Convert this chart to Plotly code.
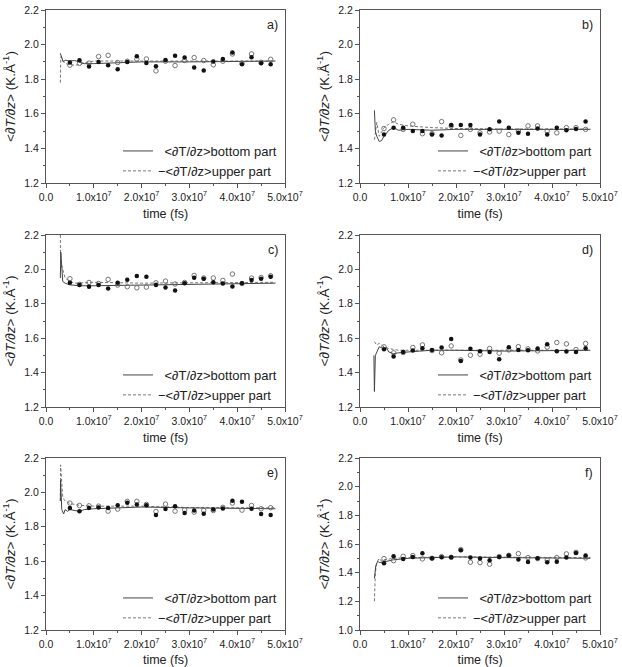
import plotly.graph_objects as go
from plotly.subplots import make_subplots

# ---------------- data ----------------
pt_x = [5e6, 7e6, 9e6, 11e6, 13e6, 15e6, 17e6, 19e6, 21e6, 23e6, 25e6,
        27e6, 29e6, 31e6, 33e6, 35e6, 37e6, 39e6, 41e6, 43e6, 45e6, 47e6]

# panel a
a_fill = [1.896, 1.910, 1.873, 1.900, 1.881, 1.858, 1.900, 1.933, 1.894, 1.875, 1.911,
          1.935, 1.925, 1.867, 1.850, 1.902, 1.917, 1.954, 1.886, 1.927, 1.892, 1.886]
a_open = [1.881, 1.892, 1.893, 1.931, 1.938, 1.896, 1.904, 1.915, 1.917, 1.848, 1.904,
          1.879, 1.908, 1.925, 1.908, 1.883, 1.904, 1.946, 1.892, 1.946, 1.898, 1.915]
a_bot_x = [3.0e6, 3.3e6, 3.6e6, 4e6, 5e6, 6e6, 8e6, 10e6, 15e6, 20e6, 30e6, 40e6, 48e6]
a_bot_y = [1.950, 1.920, 1.900, 1.910, 1.905, 1.908, 1.890, 1.890, 1.895, 1.900, 1.900, 1.902, 1.905]
a_up_x = [3.0e6, 3.1e6, 3.5e6, 4e6, 5e6, 6e6, 7e6, 8e6, 10e6, 15e6, 20e6, 30e6, 40e6, 48e6]
a_up_y = [1.780, 1.930, 1.910, 1.890, 1.885, 1.880, 1.885, 1.895, 1.905, 1.905, 1.908, 1.905, 1.905, 1.905]

# panel b
b_fill = [1.480, 1.520, 1.520, 1.500, 1.500, 1.480, 1.475, 1.535, 1.535, 1.535, 1.480,
          1.510, 1.555, 1.520, 1.490, 1.485, 1.515, 1.480, 1.520, 1.505, 1.512, 1.555]
b_open = [1.515, 1.565, 1.510, 1.540, 1.485, 1.485, 1.555, 1.530, 1.475, 1.510, 1.490,
          1.495, 1.500, 1.480, 1.500, 1.530, 1.530, 1.500, 1.490, 1.520, 1.520, 1.510]
b_bot_x = [3.0e6, 3.2e6, 3.5e6, 4e6, 4.5e6, 5e6, 6e6, 7e6, 8e6, 10e6, 15e6, 20e6, 30e6, 48e6]
b_bot_y = [1.620, 1.500, 1.470, 1.440, 1.445, 1.470, 1.505, 1.520, 1.505, 1.510, 1.505, 1.510, 1.510, 1.510]
b_up_x = [3.0e6, 3.5e6, 4e6, 5e6, 6e6, 7e6, 8e6, 10e6, 15e6, 20e6, 30e6, 48e6]
b_up_y = [1.450, 1.550, 1.470, 1.520, 1.540, 1.555, 1.540, 1.530, 1.520, 1.515, 1.512, 1.512]

# panel c
c_fill = [1.922, 1.910, 1.899, 1.910, 1.889, 1.922, 1.940, 1.961, 1.957, 1.909, 1.895,
          1.878, 1.920, 1.951, 1.946, 1.926, 1.918, 1.901, 1.920, 1.938, 1.946, 1.957]
c_open = [1.946, 1.913, 1.924, 1.918, 1.942, 1.909, 1.899, 1.893, 1.897, 1.922, 1.932,
          1.915, 1.924, 1.965, 1.950, 1.950, 1.936, 1.973, 1.918, 1.950, 1.953, 1.963]
c_bot_x = [3.0e6, 3.1e6, 3.5e6, 4e6, 5e6, 7e6, 10e6, 20e6, 30e6, 40e6, 48e6]
c_bot_y = [1.950, 2.100, 1.930, 1.920, 1.910, 1.905, 1.905, 1.910, 1.915, 1.918, 1.920]
c_up_x = [3.0e6, 3.05e6, 3.5e6, 4e6, 5e6, 6e6, 10e6, 20e6, 30e6, 48e6]
c_up_y = [2.200, 2.050, 2.000, 1.950, 1.930, 1.920, 1.925, 1.920, 1.922, 1.925]

# panel d
d_fill = [1.536, 1.493, 1.520, 1.528, 1.542, 1.532, 1.546, 1.596, 1.468, 1.538, 1.524,
          1.520, 1.478, 1.548, 1.532, 1.530, 1.540, 1.565, 1.524, 1.522, 1.520, 1.542]
d_open = [1.550, 1.515, 1.517, 1.546, 1.561, 1.528, 1.515, 1.555, 1.474, 1.501, 1.507,
          1.540, 1.513, 1.532, 1.551, 1.538, 1.526, 1.548, 1.575, 1.567, 1.534, 1.569]
d_bot_x = [2.9e6, 3.0e6, 3.2e6, 3.5e6, 4e6, 4.5e6, 5e6, 5.5e6, 6e6, 7e6, 8e6, 10e6, 15e6, 20e6, 30e6, 48e6]
d_bot_y = [1.500, 1.290, 1.500, 1.520, 1.550, 1.545, 1.530, 1.545, 1.520, 1.510, 1.515, 1.520, 1.530, 1.530, 1.525, 1.530]
d_up_x = [3.0e6, 3.5e6, 4e6, 5e6, 6e6, 8e6, 10e6, 20e6, 30e6, 48e6]
d_up_y = [1.580, 1.560, 1.570, 1.550, 1.540, 1.530, 1.530, 1.532, 1.530, 1.530]

# panel e
e_fill = [1.909, 1.891, 1.910, 1.912, 1.909, 1.926, 1.940, 1.930, 1.925, 1.868, 1.903,
          1.920, 1.880, 1.895, 1.876, 1.900, 1.907, 1.951, 1.945, 1.905, 1.874, 1.868]
e_open = [1.938, 1.924, 1.922, 1.920, 1.891, 1.903, 1.948, 1.948, 1.930, 1.889, 1.932,
          1.891, 1.899, 1.885, 1.895, 1.895, 1.913, 1.938, 1.897, 1.924, 1.905, 1.911]
e_bot_x = [3.0e6, 3.05e6, 3.3e6, 3.7e6, 4e6, 4.5e6, 5e6, 7e6, 8e6, 10e6, 15e6, 20e6, 30e6, 48e6]
e_bot_y = [1.950, 2.070, 1.900, 1.875, 1.900, 1.890, 1.900, 1.890, 1.900, 1.905, 1.910, 1.915, 1.910, 1.905]
e_up_x = [3.0e6, 3.05e6, 3.5e6, 4e6, 5e6, 7e6, 10e6, 20e6, 30e6, 48e6]
e_up_y = [1.950, 2.160, 1.970, 1.950, 1.935, 1.925, 1.920, 1.920, 1.912, 1.910]

# panel f
f_fill = [1.466, 1.514, 1.496, 1.510, 1.535, 1.500, 1.508, 1.508, 1.556, 1.505, 1.498,
          1.487, 1.510, 1.519, 1.491, 1.475, 1.500, 1.473, 1.477, 1.505, 1.537, 1.519]
f_open = [1.498, 1.484, 1.514, 1.519, 1.496, 1.500, 1.512, 1.507, 1.561, 1.473, 1.470,
          1.459, 1.512, 1.521, 1.533, 1.505, 1.498, 1.487, 1.505, 1.531, 1.542, 1.503]
f_bot_x = [3.0e6, 3.3e6, 3.7e6, 4e6, 5e6, 7e6, 10e6, 15e6, 20e6, 30e6, 48e6]
f_bot_y = [1.360, 1.450, 1.480, 1.470, 1.475, 1.490, 1.500, 1.505, 1.510, 1.505, 1.500]
f_up_x = [3.0e6, 3.2e6, 3.5e6, 4e6, 4.5e6, 5e6, 7e6, 10e6, 20e6, 48e6]
f_up_y = [1.200, 1.400, 1.470, 1.500, 1.480, 1.490, 1.500, 1.505, 1.510, 1.505]

panel_labels = ["a)", "b)", "c)", "d)", "e)", "f)"]
x_tickvals = [0, 1e7, 2e7, 3e7, 4e7, 5e7]
x_ticktext = ["0.0", "1.0x10<sup>7</sup>", "2.0x10<sup>7</sup>", "3.0x10<sup>7</sup>",
              "4.0x10<sup>7</sup>", "5.0x10<sup>7</sup>"]
leg_bottom = "\u2002&lt;∂T/∂z&gt;bottom part"
leg_upper = "−&lt;∂T/∂z&gt;upper part"

panels = [
    (a_fill, a_open, a_bot_x, a_bot_y, a_up_x, a_up_y, 1.2),
    (b_fill, b_open, b_bot_x, b_bot_y, b_up_x, b_up_y, 1.2),
    (c_fill, c_open, c_bot_x, c_bot_y, c_up_x, c_up_y, 1.2),
    (d_fill, d_open, d_bot_x, d_bot_y, d_up_x, d_up_y, 1.2),
    (e_fill, e_open, e_bot_x, e_bot_y, e_up_x, e_up_y, 1.2),
    (f_fill, f_open, f_bot_x, f_bot_y, f_up_x, f_up_y, 1.0),
]

# ---------------- layout geometry (pixels) ----------------
W, H = 622, 667
col_px = [(46, 285), (360, 600)]
row_px = [(10, 183), (235, 407), (458, 630)]

FONT = "Liberation Sans, Arial, sans-serif"
TXT = "#222"
AX = "#555"

fig = make_subplots(rows=3, cols=2)

for i, (fill, opn, bx, by, ux, uy, ymin) in enumerate(panels):
    r, c = i // 2 + 1, i % 2 + 1
    leg = "legend" if i == 0 else f"legend{i+1}"
    fig.add_trace(go.Scatter(x=ux, y=uy, mode="lines", name=leg_upper, legend=leg,
                             line=dict(color="#777", width=1, dash="3px,2px")), row=r, col=c)
    fig.add_trace(go.Scatter(x=bx, y=by, mode="lines", name=leg_bottom, legend=leg,
                             line=dict(color="#444", width=1)), row=r, col=c)
    fig.add_trace(go.Scatter(x=pt_x, y=opn, mode="markers", showlegend=False,
                             marker=dict(symbol="circle-open", size=4.5, color="#666",
                                         line=dict(width=0.9))), row=r, col=c)
    fig.add_trace(go.Scatter(x=pt_x, y=fill, mode="markers", showlegend=False,
                             marker=dict(symbol="circle", size=4.5, color="#111")), row=r, col=c)

    x0, x1 = col_px[c - 1]
    y0, y1 = row_px[r - 1]
    xd = [x0 / W, x1 / W]
    yd = [1 - y1 / H, 1 - y0 / H]
    xa = "xaxis" if i == 0 else f"xaxis{i+1}"
    ya = "yaxis" if i == 0 else f"yaxis{i+1}"
    fig.layout[xa].update(
        domain=xd, range=[0, 5e7], tickmode="array", tickvals=x_tickvals, ticktext=x_ticktext,
        ticks="outside", ticklen=4, tickcolor=AX, showline=True, linecolor=AX, linewidth=1,
        mirror=True, showgrid=False, zeroline=False,
        minor=dict(ticks="outside", ticklen=2, tickcolor=AX, dtick=5e6, tick0=0, showgrid=False),
        tickfont=dict(size=10.5, color=TXT, family=FONT),
        title=dict(text="time (fs)", font=dict(size=12.5, color=TXT, family=FONT), standoff=7),
        automargin=False)
    fig.layout[ya].update(
        domain=yd, range=[ymin, 2.2], tickmode="linear", tick0=0, dtick=0.2, tickformat=".1f",
        ticks="outside", ticklen=4, tickcolor=AX, showline=True, linecolor=AX, linewidth=1,
        mirror=True, showgrid=False, zeroline=False,
        minor=dict(ticks="outside", ticklen=2, tickcolor=AX, dtick=0.1, showgrid=False),
        tickfont=dict(size=10.5, color=TXT, family=FONT),
        title=dict(text="&lt;<i>∂T/∂z</i>&gt; (K.Å<sup>-1</sup>)",
                   font=dict(size=13.5, color=TXT, family=FONT), standoff=5),
        automargin=False)

    fig.layout[leg] = dict(
        x=(x1 - 3) / W, xanchor="right", y=1 - (y1 + 3) / H, yanchor="bottom",
        bgcolor="rgba(0,0,0,0)", font=dict(size=13, color=TXT, family=FONT),
        tracegroupgap=0, itemwidth=30, traceorder="reversed")

    fig.add_annotation(text=panel_labels[i], xref="paper", yref="paper",
                       x=(x1 - 5) / W, y=1 - (y0 + 15) / H, xanchor="right", yanchor="middle",
                       showarrow=False, font=dict(size=12.5, color=TXT, family=FONT))

fig.update_layout(width=W, height=H, margin=dict(l=0, r=0, t=0, b=0),
                  paper_bgcolor="white", plot_bgcolor="white", showlegend=True)

fig.write_html("out.html")
